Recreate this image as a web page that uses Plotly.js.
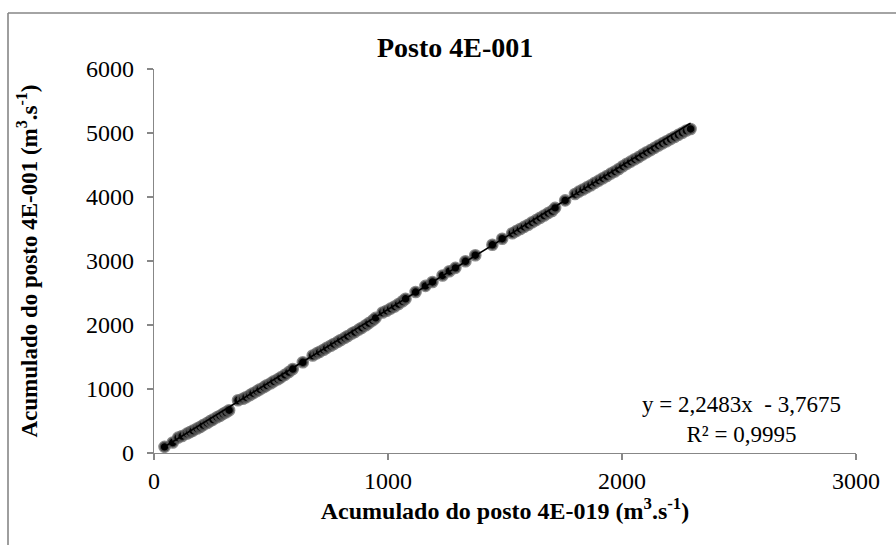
<!DOCTYPE html>
<html>
<head>
<meta charset="utf-8">
<script src="https://cdn.plot.ly/plotly-3.0.1.min.js"></script>
<style>html,body{margin:0;padding:0;background:#fff;}#chart{width:896px;height:545px;}</style>
</head>
<body>
<div id="chart"></div>
<script>
// Accumulated discharge at station 4E-019 (x) vs station 4E-001 (y)
const acumulado4E019 = [
  45, 80, 103, 120, 141, 154, 167, 184, 197, 210, 227, 240, 252, 269, 282, 295, 308, 321,
  359, 380, 393, 410, 423, 440, 453, 470, 482, 499, 512, 529, 542, 559, 576, 593,
  636, 678, 695, 708, 725, 738, 755, 768, 785, 798, 815, 828, 845, 858, 875, 888, 905, 918, 935, 947,
  977, 994, 1011, 1028, 1045, 1062, 1075, 1118, 1160, 1190, 1233, 1262, 1288, 1331, 1373,
  1446, 1488, 1531, 1548, 1565, 1582, 1599, 1616, 1633, 1650, 1667, 1684, 1701, 1714, 1757,
  1799, 1816, 1833, 1850, 1867, 1884, 1901, 1918, 1935, 1952, 1969, 1986, 2003, 2020, 2037,
  2054, 2071, 2088, 2105, 2122, 2139, 2156, 2173, 2190, 2207, 2224, 2241, 2258, 2275, 2293
];
const acumulado4E001 = [
  96, 163, 240, 265, 303, 326, 350, 383, 407, 436, 469, 498, 521, 559, 583, 612, 636, 669,
  824, 848, 872, 905, 934, 967, 996, 1029, 1058, 1091, 1120, 1153, 1182, 1220, 1263, 1312,
  1417, 1523, 1556, 1580, 1613, 1642, 1675, 1704, 1737, 1766, 1799, 1828, 1866, 1890, 1928, 1957, 1995, 2029, 2072, 2111,
  2195, 2223, 2256, 2290, 2328, 2371, 2410, 2515, 2611, 2673, 2774, 2841, 2893, 2995, 3090,
  3253, 3348, 3433, 3467, 3500, 3533, 3566, 3605, 3638, 3676, 3710, 3748, 3781, 3830, 3947,
  4046, 4084, 4118, 4151, 4184, 4223, 4256, 4294, 4327, 4366, 4399, 4437, 4481, 4519, 4552,
  4590, 4623, 4662, 4700, 4733, 4767, 4805, 4838, 4871, 4905, 4938, 4971, 5005, 5038, 5063
];
const trendSlope = 2.2483;
const trendIntercept = -3.7675;
const trendR2 = 0.9995;
const xTicks = [0, 1000, 2000, 3000];
const yTicks = [0, 1000, 2000, 3000, 4000, 5000, 6000];

const xMin = Math.min(...acumulado4E019), xMax = Math.max(...acumulado4E019);
const trendX = [xMin, xMax];
const trendY = trendX.map(v => trendSlope * v + trendIntercept);

const fmt = (v, d) => v.toFixed(d).replace('.', ',');
const eqText = 'y = ' + fmt(trendSlope, 4) + 'x  - ' + fmt(Math.abs(trendIntercept), 4) + '<br>R² = ' + fmt(trendR2, 4);

const serif = 'Liberation Serif, Times New Roman, serif';
const axisCol = '#878787';

const data = [
  {
    x: acumulado4E019, y: acumulado4E001, type: 'scatter', mode: 'markers',
    marker: {color: '#000', size: 10, line: {color: 'rgba(100,100,100,0.75)', width: 2.6}},
    hoverinfo: 'x+y', showlegend: false
  },
  {
    x: trendX, y: trendY, type: 'scatter', mode: 'lines',
    line: {color: '#000', width: 1.6}, hoverinfo: 'skip', showlegend: false
  }
];

const layout = {
  width: 896, height: 545,
  margin: {l: 154, r: 40, t: 69, b: 92},
  paper_bgcolor: '#fff', plot_bgcolor: '#fff',
  font: {family: serif, color: '#000', size: 24},
  title: {text: '<b>Posto 4E-001</b>', font: {family: serif, size: 28, color: '#000'},
          x: 0.508, xref: 'container', xanchor: 'center', y: 0.914, yref: 'container', yanchor: 'middle'},
  xaxis: {
    range: [0, 3000], tickvals: xTicks, ticktext: xTicks.map(String),
    showgrid: false, zeroline: false, showline: true, linecolor: axisCol, linewidth: 1.3,
    ticks: 'outside', ticklen: 6, tickcolor: axisCol, tickwidth: 1.3,
    tickfont: {family: serif, size: 24, color: '#000'},
    title: {text: '<b>Acumulado do posto 4E-019 (m<sup>3</sup>.s<sup>-1</sup>)</b>', font: {family: serif, size: 24, color: '#000'}, standoff: 4}
  },
  yaxis: {
    range: [0, 6000], tickvals: yTicks, ticktext: yTicks.map(String),
    showgrid: false, zeroline: false, showline: true, linecolor: axisCol, linewidth: 1.3,
    ticks: 'outside', ticklen: 6, tickcolor: axisCol, tickwidth: 1.3, ticklabelstandoff: 8,
    tickfont: {family: serif, size: 24, color: '#000'},
    title: {text: '<b>Acumulado do posto 4E-001 (m<sup>3</sup>.s<sup>-1</sup>)</b>', font: {family: serif, size: 23, color: '#000'}, standoff: 42}
  },
  annotations: [{
    xref: 'paper', yref: 'paper', x: 0.837, y: 0.086, xanchor: 'center', yanchor: 'middle',
    text: eqText, showarrow: false, align: 'center',
    font: {family: serif, size: 23, color: '#000'}
  }],
  shapes: [
    {type: 'line', xref: 'paper', yref: 'paper', x0: (8 - 154) / 702, x1: (910 - 154) / 702,
     y0: (453 - 13) / 384, y1: (453 - 13) / 384, line: {color: '#868686', width: 1.6}},
    {type: 'line', xref: 'paper', yref: 'paper', x0: (8 - 154) / 702, x1: (8 - 154) / 702,
     y0: (453 - 13) / 384, y1: (453 - 560) / 384, line: {color: '#868686', width: 1.6}}
  ]
};

Plotly.newPlot('chart', data, layout, {displayModeBar: false, staticPlot: true});
</script>
</body>
</html>
